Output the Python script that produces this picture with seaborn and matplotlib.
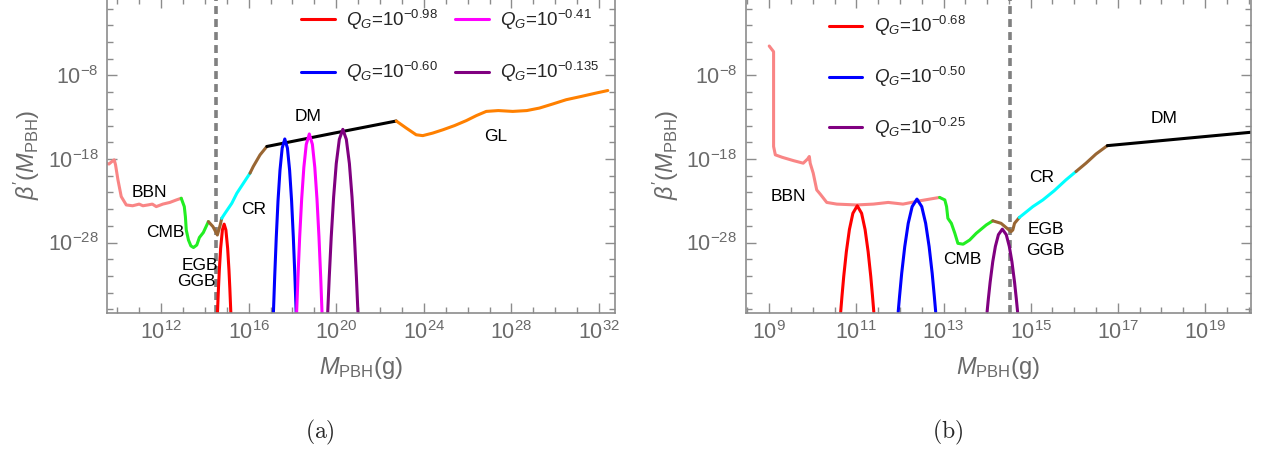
import seaborn as sns
import pandas as pd
import matplotlib.pyplot as plt
import numpy as np
from matplotlib.ticker import FixedLocator, LogFormatterMathtext, NullFormatter

# all values are log10 of M_PBH (g) and log10 of beta'
# ---- panel (a) constraint pieces
a_bbn_m = [9.50, 9.62, 9.80, 9.86, 9.92, 10.03, 10.18, 10.41, 10.70, 11.00, 11.17, 11.40, 11.60, 11.78, 12.08, 12.40, 12.70, 12.92]
a_bbn_b = [-18.5, -18.6, -18.2, -18.1, -18.7, -20.5, -22.5, -23.5, -23.6, -23.4, -23.6, -23.5, -23.4, -23.7, -23.4, -23.2, -22.9, -22.7]
a_cmb_m = [12.92, 13.06, 13.11, 13.15, 13.25, 13.36, 13.48, 13.63, 13.75, 13.93, 14.16]
a_cmb_b = [-22.7, -23.7, -24.9, -26.5, -27.7, -28.4, -28.6, -28.3, -27.4, -26.8, -25.5]
a_egb_m = [14.16, 14.37, 14.57, 14.70, 14.77]
a_egb_b = [-25.5, -26.1, -27.1, -25.9, -25.1]
a_cr_m = [14.77, 14.92, 15.23, 15.46, 15.76, 16.06]
a_cr_b = [-25.1, -24.5, -23.3, -22.1, -20.9, -19.7]
a_egb2_m = [16.06, 16.21, 16.52, 16.83]
a_egb2_b = [-19.7, -18.9, -17.5, -16.5]
a_dm_m = [16.83, 19.8, 22.74]
a_dm_b = [-16.5, -14.95, -13.45]
a_gl_m = [22.74, 23.2, 23.65, 23.95, 24.4, 24.87, 25.4, 25.94, 26.4, 26.85, 27.4, 28.06, 28.7, 29.28, 29.9, 30.5, 31.2, 31.87, 32.4]
a_gl_b = [-13.45, -14.3, -15.1, -15.2, -14.9, -14.5, -14.0, -13.4, -12.8, -12.3, -12.2, -12.3, -12.2, -11.9, -11.4, -10.9, -10.5, -10.1, -9.8]

# ---- panel (a) Q_G curves
a_red_m = [14.575, 14.62, 14.66, 14.72, 14.80, 14.88, 14.96, 15.04, 15.10, 15.14, 15.185]
a_red_b = [-36.4, -33.5, -31.3, -28.7, -26.5, -25.8, -26.5, -28.7, -31.3, -33.5, -36.4]
a_blue_m = [17.13, 17.19, 17.26, 17.34, 17.43, 17.53, 17.65, 17.77, 17.87, 17.96, 18.04, 18.11, 18.17]
a_blue_b = [-36.4, -32.0, -27.4, -23.0, -19.35, -16.7, -15.6, -16.7, -19.35, -23.0, -27.4, -32.0, -36.4]
a_mag_m = [18.19, 18.25, 18.33, 18.42, 18.52, 18.63, 18.77, 18.91, 19.02, 19.12, 19.21, 19.29, 19.35]
a_mag_b = [-36.4, -32.2, -27.3, -22.8, -19.0, -16.25, -15.0, -16.25, -19.0, -22.8, -27.3, -32.2, -36.4]
a_pur_m = [19.61, 19.68, 19.77, 19.88, 20.0, 20.14, 20.3, 20.46, 20.6, 20.72, 20.83, 20.92, 20.99]
a_pur_b = [-36.35, -32.15, -27.35, -22.55, -18.55, -15.65, -14.45, -15.65, -18.55, -22.55, -27.35, -32.15, -36.35]

# ---- panel (b) constraint pieces
b_bbn_m = [9.0, 9.1, 9.1, 9.14, 9.3, 9.56, 9.78, 9.88, 9.92, 9.94, 10.01, 10.09, 10.17, 10.32, 10.55, 11.0, 11.39, 11.73, 12.07, 12.46, 12.91]
b_bbn_b = [-4.47, -5.15, -16.5, -17.5, -17.8, -18.2, -18.5, -18.0, -17.7, -18.5, -19.7, -21.7, -22.2, -23.2, -23.4, -23.5, -23.4, -23.2, -23.4, -23.0, -22.6]
b_cmb_m = [12.91, 13.03, 13.07, 13.1, 13.18, 13.26, 13.33, 13.45, 13.6, 13.75, 13.98, 14.13]
b_cmb_b = [-22.6, -22.9, -23.7, -25.1, -25.7, -26.9, -28.1, -28.2, -27.7, -26.9, -25.9, -25.4]
b_egb_m = [14.13, 14.32, 14.55, 14.59, 14.63, 14.74]
b_egb_b = [-25.4, -25.7, -26.7, -26.5, -25.7, -25.0]
b_cr_m = [14.74, 15.05, 15.28, 15.54, 15.81, 16.04]
b_cr_b = [-25.0, -23.7, -22.9, -21.8, -20.5, -19.5]
b_egb2_m = [16.04, 16.27, 16.5, 16.76]
b_egb2_b = [-19.5, -18.5, -17.4, -16.4]
b_dm_m = [16.76, 20.05]
b_dm_b = [-16.4, -14.8]

# ---- panel (b) Q_G curves
b_red_m = [10.64, 10.67, 10.71, 10.77, 10.84, 10.92, 11.02, 11.12, 11.2, 11.27, 11.33, 11.37, 11.40]
b_red_b = [-36.3, -34.4, -32.05, -29.1, -26.45, -24.5, -23.6, -24.5, -26.45, -29.1, -32.05, -34.4, -36.3]
b_blue_m = [11.96, 11.99, 12.04, 12.11, 12.19, 12.28, 12.39, 12.5, 12.59, 12.67, 12.74, 12.79, 12.82]
b_blue_b = [-36.3, -34.5, -31.7, -28.5, -25.7, -23.7, -22.8, -23.7, -25.7, -28.5, -31.7, -34.5, -36.3]
b_pur_m = [14.0, 14.03, 14.07, 14.13, 14.19, 14.26, 14.35, 14.44, 14.51, 14.57, 14.63, 14.67, 14.70]
b_pur_b = [-36.3, -34.7, -32.75, -30.3, -28.47, -27.06, -26.4, -27.06, -28.47, -30.3, -32.75, -34.7, -36.3]

a_labels = ["BBN", "CMB", "EGB", "GGB", "CR", "DM", "GL"]
a_label_m = [11.47, 12.18, 13.75, 13.63, 16.21, 18.73, 27.3]
a_label_b = [-22.0, -26.8, -30.7, -32.7, -24.0, -12.9, -15.3]
b_labels = ["BBN", "CMB", "EGB", "GGB", "CR", "DM"]
b_label_m = [9.44, 13.43, 15.35, 15.34, 15.26, 18.07]
b_label_b = [-22.5, -30.0, -26.4, -29.0, -20.2, -13.1]

a_qg = ["-0.98", "-0.60", "-0.41", "-0.135"]
b_qg = ["-0.68", "-0.50", "-0.25"]
evap_line = 14.53

C_BBN, C_CMB, C_EGB, C_CR, C_DM, C_GL = "#f98585", "#22ee22", "#996633", "#00ffff", "black", "#ff8000"

sns.set_theme(style="ticks")
plt.rcParams["font.family"] = ["Liberation Sans", "DejaVu Sans"]
plt.rcParams["mathtext.fontset"] = "custom"
plt.rcParams["mathtext.rm"] = "Liberation Sans"
plt.rcParams["mathtext.it"] = "Liberation Sans:italic"
plt.rcParams["mathtext.bf"] = "Liberation Sans:bold"

fig = plt.figure(figsize=(12.65, 4.5), dpi=100)
ax1 = fig.add_axes([107 / 1265, 137.5 / 450, 508 / 1265, 314.5 / 450])
ax2 = fig.add_axes([745.7 / 1265, 137.5 / 450, 505 / 1265, 314.5 / 450])


def seg(ax, m, b, color, label=None, lw=2.2):
    df = pd.DataFrame({"M": 10.0 ** np.array(m), "beta": 10.0 ** np.array(b)})
    sns.lineplot(data=df, x="M", y="beta", ax=ax, color=color, lw=lw, sort=False,
                 estimator=None, label=label, legend=label is not None)


def qlabel(q):
    return r"$Q_G$=10$^{" + q + "}$"


for ax in (ax1, ax2):
    ax.set_xscale("log")
    ax.set_yscale("log")

# panel (a)
seg(ax1, a_bbn_m, a_bbn_b, C_BBN)
seg(ax1, a_cmb_m, a_cmb_b, C_CMB)
seg(ax1, a_egb_m, a_egb_b, C_EGB)
seg(ax1, a_cr_m, a_cr_b, C_CR)
seg(ax1, a_egb2_m, a_egb2_b, C_EGB)
seg(ax1, a_dm_m, a_dm_b, C_DM)
seg(ax1, a_gl_m, a_gl_b, C_GL)
ax1.axvline(10 ** evap_line, color="#808080", lw=2.6, ls=(0, (2.2, 1.4)), zorder=1)
seg(ax1, a_red_m, a_red_b, "#ff0000", qlabel(a_qg[0]))
seg(ax1, a_blue_m, a_blue_b, "#0000ff", qlabel(a_qg[1]))
seg(ax1, a_mag_m, a_mag_b, "#ff00ff", qlabel(a_qg[2]))
seg(ax1, a_pur_m, a_pur_b, "#800080", qlabel(a_qg[3]))

# panel (b)
seg(ax2, b_bbn_m, b_bbn_b, C_BBN)
seg(ax2, b_cmb_m, b_cmb_b, C_CMB)
seg(ax2, b_egb_m, b_egb_b, C_EGB)
seg(ax2, b_cr_m, b_cr_b, C_CR)
seg(ax2, b_egb2_m, b_egb2_b, C_EGB)
seg(ax2, b_dm_m, b_dm_b, C_DM)
ax2.axvline(10 ** evap_line, color="#808080", lw=2.6, ls=(0, (2.2, 1.4)), zorder=1)
seg(ax2, b_red_m, b_red_b, "#ff0000", qlabel(b_qg[0]))
seg(ax2, b_blue_m, b_blue_b, "#0000ff", qlabel(b_qg[1]))
seg(ax2, b_pur_m, b_pur_b, "#800080", qlabel(b_qg[2]))

for t, m, b in zip(a_labels, a_label_m, a_label_b):
    ax1.text(10 ** m, 10 ** b, t, ha="center", va="center", fontsize=12.5, color="black")
for t, m, b in zip(b_labels, b_label_m, b_label_b):
    ax2.text(10 ** m, 10 ** b, t, ha="center", va="center", fontsize=12.5, color="black")

ax1.set_xlim(10 ** 9.53, 10 ** 32.73)
ax2.set_xlim(10 ** 8.46, 10 ** 20.05)
ax1.xaxis.set_major_locator(FixedLocator([10.0 ** k for k in range(12, 33, 4)]))
ax1.xaxis.set_minor_locator(FixedLocator([10.0 ** k for k in range(9, 34)]))
ax2.xaxis.set_major_locator(FixedLocator([10.0 ** k for k in range(9, 21, 2)]))
ax2.xaxis.set_minor_locator(FixedLocator([10.0 ** (k / 2) for k in range(16, 42)]))

for ax in (ax1, ax2):
    ax.set_ylim(10 ** -36.38, 10 ** 1.28)
    ax.yaxis.set_major_locator(FixedLocator([10.0 ** k for k in (-28, -18, -8)]))
    ax.yaxis.set_minor_locator(FixedLocator([10.0 ** k for k in range(-40, 4, 2)]))
    ax.xaxis.set_major_formatter(LogFormatterMathtext())
    ax.yaxis.set_major_formatter(LogFormatterMathtext())
    ax.xaxis.set_minor_formatter(NullFormatter())
    ax.yaxis.set_minor_formatter(NullFormatter())
    ax.tick_params(which="both", direction="in", top=True, right=True, color="#8c8c8c",
                   labelcolor="#6a6a6a", labelsize=15.5, width=1)
    ax.tick_params(which="major", length=7, pad=6)
    ax.tick_params(which="minor", length=4)
    for s in ax.spines.values():
        s.set_color("#8c8c8c")
        s.set_linewidth(1.2)
    ax.set_xlabel(r"$M_{\mathrm{PBH}}$(g)", fontsize=17, color="#6a6a6a", labelpad=8)
    ax.set_ylabel(r"$\beta'(M_{\mathrm{PBH}})$", fontsize=17, color="#6a6a6a", labelpad=4)

ax1.legend(loc="upper left", bbox_to_anchor=(0.382, 0.969), ncol=2, frameon=False,
           fontsize=13.5, handlelength=1.8, handletextpad=0.6, columnspacing=0.9,
           labelspacing=1.5, borderpad=0, borderaxespad=0)
ax2.legend(loc="upper left", bbox_to_anchor=(0.164, 0.948), ncol=1, frameon=False,
           fontsize=13.5, handlelength=1.8, handletextpad=0.6,
           labelspacing=1.42, borderpad=0, borderaxespad=0)

fig.text(320 / 1265, 1 - 432 / 450, r"$\mathrm{(a)}$", math_fontfamily="cm", fontsize=17,
         ha="center", va="center")
fig.text(948 / 1265, 1 - 432 / 450, r"$\mathrm{(b)}$", math_fontfamily="cm", fontsize=17,
         ha="center", va="center")

fig.savefig("out.png", dpi=100)
